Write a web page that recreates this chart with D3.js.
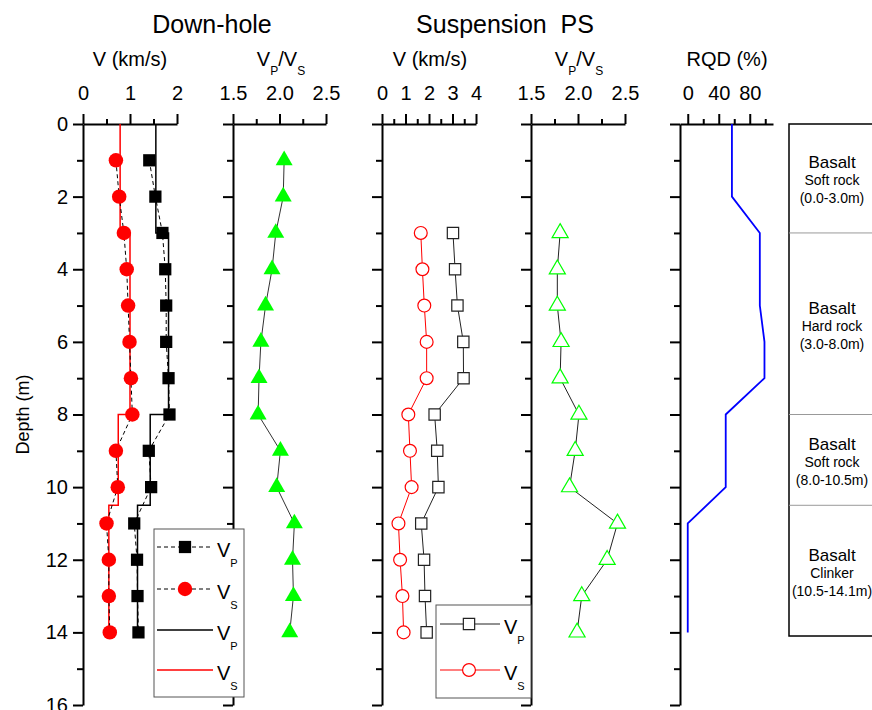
<!DOCTYPE html>
<html>
<head>
<meta charset="utf-8">
<script src="https://cdn.jsdelivr.net/npm/d3@7"></script>
<style>
  body { margin: 0; background: #fff; }
  text { font-family: Arial, "Liberation Sans", sans-serif; fill: #000; }
</style>
</head>
<body>
<div id="chart"></div>
<script>
// down-hole measurements (every metre)
const dhDepth = [1, 2, 3, 4, 5, 6, 7, 8, 9, 10, 11, 12, 13, 14];
const dhVp = [1.41, 1.54, 1.69, 1.75, 1.77, 1.77, 1.82, 1.84, 1.40, 1.45, 1.09, 1.15, 1.16, 1.18];
const dhVs = [0.70, 0.77, 0.87, 0.93, 0.96, 0.99, 1.02, 1.05, 0.70, 0.74, 0.50, 0.55, 0.55, 0.57];
const dhRatio = [2.05, 2.04, 1.96, 1.92, 1.85, 1.80, 1.78, 1.77, 2.01, 1.97, 2.16, 2.14, 2.15, 2.11];

// layer model (solid step lines)
const layerDepth = [0, 3, 8, 10.5, 14];
const layerVp = [1.55, 1.82, 1.43, 1.16];
const layerVs = [0.79, 1.00, 0.75, 0.55];

// suspension PS logging
const psDepth = [3, 4, 5, 6, 7, 8, 9, 10, 11, 12, 13, 14];
const psVp = [3.02, 3.11, 3.21, 3.46, 3.47, 2.24, 2.35, 2.40, 1.67, 1.79, 1.83, 1.90];
const psVs = [1.65, 1.72, 1.80, 1.90, 1.90, 1.12, 1.19, 1.26, 0.70, 0.77, 0.87, 0.92];
const psRatio = [1.81, 1.78, 1.78, 1.82, 1.81, 2.01, 1.97, 1.91, 2.42, 2.31, 2.04, 1.99];

// RQD
const rqdDepth = [0, 2, 3, 5, 6, 7, 8, 10, 11, 14];
const rqdValue = [57, 57, 93, 93, 99, 99, 49, 49, 0, 0];

// lithology
const lithTop = [0, 3, 8, 10.5];
const lithBottom = [3, 8, 10.5, 14.1];
const lithName = ["Basalt", "Basalt", "Basalt", "Basalt"];
const lithType = ["Soft rock", "Hard rock", "Soft rock", "Clinker"];
const lithRange = ["(0.0-3.0m)", "(3.0-8.0m)", "(8.0-10.5m)", "(10.5-14.1m)"];

const depthMajor = [0, 2, 4, 6, 8, 10, 12, 14, 16];
const depthMinor = [1, 3, 5, 7, 9, 11, 13, 15];

const width = 872, height = 710;

const svg = d3.select("#chart").append("svg")
    .attr("width", width)
    .attr("height", height);

svg.append("rect").attr("width", width).attr("height", height).attr("fill", "#fff");

const y = d3.scaleLinear().domain([0, 16]).range([124, 705]);

const panels = [
    { range: [83, 177], domain: [0, 2], major: [0, 1, 2], minor: [0.5, 1.5], fmt: d3.format("d") },
    { range: [233, 326], domain: [1.5, 2.5], major: [1.5, 2, 2.5], minor: [1.75, 2.25], fmt: d3.format(".1f") },
    { range: [382, 476], domain: [0, 4], major: [0, 1, 2, 3, 4], minor: [0.5, 1.5, 2.5, 3.5], fmt: d3.format("d") },
    { range: [531, 625], domain: [1.5, 2.5], major: [1.5, 2, 2.5], minor: [1.75, 2.25], fmt: d3.format(".1f") },
    { range: [680, 773], domain: [-10, 110], major: [0, 40, 80], minor: [20, 60, 100], fmt: d3.format("d") }
];

panels.forEach((p, i) => {
    p.x = d3.scaleLinear().domain(p.domain).range(p.range);

    // depth axis, ticks outward
    const left = svg.append("g").attr("transform", `translate(${p.range[0]},0)`);
    left.call(d3.axisLeft(y).tickValues(depthMajor).tickSize(10).tickSizeOuter(0).tickPadding(5)
        .tickFormat(i === 0 ? d3.format("d") : ""));
    left.append("g").call(d3.axisLeft(y).tickValues(depthMinor).tickSize(6).tickFormat(""))
        .select(".domain").remove();

    const top = svg.append("g").attr("transform", `translate(0,${y(0)})`);
    top.call(d3.axisTop(p.x).tickValues(p.major).tickSize(10).tickSizeOuter(0).tickPadding(14).tickFormat(p.fmt));
    top.append("g").call(d3.axisTop(p.x).tickValues(p.minor).tickSize(5).tickFormat(""))
        .select(".domain").remove();
});

svg.selectAll(".domain").attr("stroke", "#000").attr("stroke-width", 2);
svg.selectAll(".tick line").attr("stroke", "#000").attr("stroke-width", 2);
svg.selectAll(".tick text").attr("font-size", 20).attr("font-family", "Arial, 'Liberation Sans', sans-serif");

// titles and axis labels
svg.append("text").attr("x", 212).attr("y", 33).attr("text-anchor", "middle")
    .attr("font-size", 25).text("Down-hole");
svg.append("text").attr("x", 505).attr("y", 33).attr("text-anchor", "middle")
    .attr("font-size", 25).style("white-space", "pre").text("Suspension  PS");

function velLabel(cx) {
    svg.append("text").attr("x", cx).attr("y", 66).attr("text-anchor", "middle")
        .attr("font-size", 20).text("V (km/s)");
}
function ratioLabel(cx) {
    const t = svg.append("text").attr("x", cx).attr("y", 66).attr("text-anchor", "middle")
        .attr("font-size", 20);
    t.append("tspan").text("V");
    t.append("tspan").attr("font-size", 12).attr("dy", 9).text("P");
    t.append("tspan").attr("dy", -9).text("/V");
    t.append("tspan").attr("font-size", 12).attr("dy", 9).text("S");
}
velLabel(130);
ratioLabel(281);
velLabel(430);
ratioLabel(579);
svg.append("text").attr("x", 727).attr("y", 66).attr("text-anchor", "middle")
    .attr("font-size", 20).text("RQD (%)");

svg.append("text").attr("transform", `translate(29,${(y(0) + y(16)) / 2}) rotate(-90)`)
    .attr("text-anchor", "middle").attr("font-size", 18).text("Depth (m)");

const sq = d3.symbol().type(d3.symbolSquare);
const circ = d3.symbol().type(d3.symbolCircle);
const tri = d3.symbol().type(d3.symbolTriangle);

// ---- panel 1: down-hole velocity
const x1 = panels[0].x;
const stepPts = vals => vals.flatMap((v, k) => [[v, layerDepth[k]], [v, layerDepth[k + 1]]]);
const lineXY = x => d3.line().x(d => x(d[0])).y(d => y(d[1]));

svg.append("path").datum(stepPts(layerVp)).attr("d", lineXY(x1))
    .attr("fill", "none").attr("stroke", "#000").attr("stroke-width", 1.5);
svg.append("path").datum(stepPts(layerVs)).attr("d", lineXY(x1))
    .attr("fill", "none").attr("stroke", "#ff0000").attr("stroke-width", 1.5);

[dhVp, dhVs].forEach(vals => {
    svg.append("path").datum(vals.map((v, k) => [v, dhDepth[k]])).attr("d", lineXY(x1))
        .attr("fill", "none").attr("stroke", "#000").attr("stroke-width", 1)
        .attr("stroke-dasharray", "4,3");
});
svg.selectAll(".dhvp").data(dhVp).join("path")
    .attr("transform", (d, k) => `translate(${x1(d)},${y(dhDepth[k])})`)
    .attr("d", sq.size(150)).attr("fill", "#000");
svg.selectAll(".dhvs").data(dhVs).join("path")
    .attr("transform", (d, k) => `translate(${x1(d)},${y(dhDepth[k])})`)
    .attr("d", circ.size(165)).attr("fill", "#ff0000");

// ---- panel 2: down-hole Vp/Vs
const x2 = panels[1].x;
svg.append("path").datum(dhRatio.map((v, k) => [v, dhDepth[k]])).attr("d", lineXY(x2))
    .attr("fill", "none").attr("stroke", "#333").attr("stroke-width", 1);
svg.selectAll(".dhr").data(dhRatio).join("path")
    .attr("transform", (d, k) => `translate(${x2(d)},${y(dhDepth[k])})`)
    .attr("d", tri.size(125)).attr("fill", "#00ff00");

// ---- panel 3: suspension velocity
const x3 = panels[2].x;
svg.append("path").datum(psVp.map((v, k) => [v, psDepth[k]])).attr("d", lineXY(x3))
    .attr("fill", "none").attr("stroke", "#222").attr("stroke-width", 1);
svg.append("path").datum(psVs.map((v, k) => [v, psDepth[k]])).attr("d", lineXY(x3))
    .attr("fill", "none").attr("stroke", "#ff0000").attr("stroke-width", 1);
svg.selectAll(".psvp").data(psVp).join("path")
    .attr("transform", (d, k) => `translate(${x3(d)},${y(psDepth[k])})`)
    .attr("d", sq.size(128)).attr("fill", "#fff").attr("stroke", "#222").attr("stroke-width", 1.2);
svg.selectAll(".psvs").data(psVs).join("path")
    .attr("transform", (d, k) => `translate(${x3(d)},${y(psDepth[k])})`)
    .attr("d", circ.size(130)).attr("fill", "#fff").attr("stroke", "#ff0000").attr("stroke-width", 1.2);

// ---- panel 4: suspension Vp/Vs
const x4 = panels[3].x;
svg.append("path").datum(psRatio.map((v, k) => [v, psDepth[k]])).attr("d", lineXY(x4))
    .attr("fill", "none").attr("stroke", "#222").attr("stroke-width", 1);
svg.selectAll(".psr").data(psRatio).join("path")
    .attr("transform", (d, k) => `translate(${x4(d)},${y(psDepth[k])})`)
    .attr("d", tri.size(112)).attr("fill", "#fff").attr("stroke", "#00ff00").attr("stroke-width", 1.2);

// ---- panel 5: RQD
const x5 = panels[4].x;
svg.append("path").datum(rqdValue.map((v, k) => [v, rqdDepth[k]])).attr("d", lineXY(x5))
    .attr("fill", "none").attr("stroke", "#0000ff").attr("stroke-width", 1.8);

// ---- lithology column
const lx = 789, lw = 90, lcx = 832;
svg.append("rect").attr("x", lx).attr("y", y(0)).attr("width", lw)
    .attr("height", y(lithBottom[lithBottom.length - 1]) - y(0))
    .attr("fill", "none").attr("stroke", "#000").attr("stroke-width", 1.5);
lithTop.slice(1).forEach(d => {
    svg.append("line").attr("x1", lx).attr("x2", lx + lw).attr("y1", y(d)).attr("y2", y(d))
        .attr("stroke", "#999").attr("stroke-width", 1);
});
lithTop.forEach((t, k) => {
    const mid = (y(t) + y(lithBottom[k])) / 2;
    svg.append("text").attr("x", lcx).attr("y", mid - 16).attr("dy", "0.35em")
        .attr("text-anchor", "middle").attr("font-size", 17).text(lithName[k]);
    svg.append("text").attr("x", lcx).attr("y", mid + 2).attr("dy", "0.35em")
        .attr("text-anchor", "middle").attr("font-size", 14).text(lithType[k]);
    svg.append("text").attr("x", lcx).attr("y", mid + 20).attr("dy", "0.35em")
        .attr("text-anchor", "middle").attr("font-size", 14).text(lithRange[k]);
});

// ---- legends
function legendLabel(g, x, yy, sub) {
    const t = g.append("text").attr("x", x).attr("y", yy + 10).attr("font-size", 20);
    t.append("tspan").text("V");
    t.append("tspan").attr("font-size", 11).attr("dy", 10).text(sub);
}

const leg1 = svg.append("g");
leg1.append("rect").attr("x", 154).attr("y", 529).attr("width", 90).attr("height", 168)
    .attr("fill", "#fff").attr("stroke", "#555").attr("stroke-width", 1);
const leg1Rows = [
    { y: 547, dash: "4,3", color: "#000", marker: "sq", sub: "P" },
    { y: 589, dash: "4,3", color: "#000", marker: "circ", sub: "S" },
    { y: 630, dash: null, color: "#000", marker: null, sub: "P" },
    { y: 670, dash: null, color: "#ff0000", marker: null, sub: "S" }
];
leg1Rows.forEach(r => {
    leg1.append("line").attr("x1", 157).attr("x2", 213).attr("y1", r.y).attr("y2", r.y)
        .attr("stroke", r.color).attr("stroke-width", r.dash ? 1 : 1.5)
        .attr("stroke-dasharray", r.dash);
    if (r.marker === "sq") {
        leg1.append("path").attr("transform", `translate(185,${r.y})`).attr("d", sq.size(150)).attr("fill", "#000");
    } else if (r.marker === "circ") {
        leg1.append("path").attr("transform", `translate(185,${r.y})`).attr("d", circ.size(165)).attr("fill", "#ff0000");
    }
    legendLabel(leg1, 217, r.y, r.sub);
});

const leg2 = svg.append("g");
leg2.append("rect").attr("x", 436).attr("y", 605).attr("width", 95).attr("height", 93)
    .attr("fill", "#fff").attr("stroke", "#555").attr("stroke-width", 1);
leg2.append("line").attr("x1", 440).attr("x2", 500).attr("y1", 624).attr("y2", 624)
    .attr("stroke", "#222").attr("stroke-width", 1);
leg2.append("path").attr("transform", "translate(469,624)").attr("d", sq.size(128))
    .attr("fill", "#fff").attr("stroke", "#222").attr("stroke-width", 1.2);
legendLabel(leg2, 504, 624, "P");
leg2.append("line").attr("x1", 440).attr("x2", 500).attr("y1", 670).attr("y2", 670)
    .attr("stroke", "#ff0000").attr("stroke-width", 1);
leg2.append("path").attr("transform", "translate(469,670)").attr("d", circ.size(130))
    .attr("fill", "#fff").attr("stroke", "#ff0000").attr("stroke-width", 1.2);
legendLabel(leg2, 504, 670, "S");
</script>
</body>
</html>
